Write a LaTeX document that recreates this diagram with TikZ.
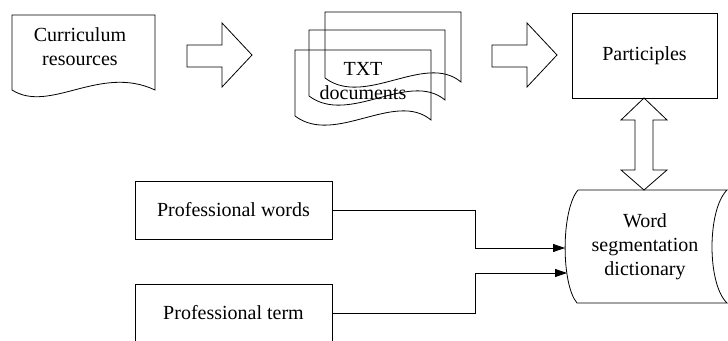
\documentclass[tikz,border=0pt]{standalone}
\usepackage{fontspec}
\setmainfont{Liberation Serif}
\usetikzlibrary{arrows.meta}

\begin{document}
\begin{tikzpicture}[x=1pt,y=-1pt,line width=0.8pt,
  txt/.style={font=\fontsize{20}{24}\selectfont,align=center},
  box/.style={draw,txt,minimum width=197pt,minimum height=58pt},
  link/.style={-{Triangle[length=12pt,width=8pt]}}]
\useasboundingbox (0,0) rectangle (728,340);
% source document
\draw (12,15)--(155,15)--(155,90) .. controls (100,64) and (50,114) .. (12,90)--cycle;
\node[txt] (res) at (80,47) {Curriculum\\resources};
% stacked txt documents
\foreach \dx/\dy in {30/12,14/30,0/50}
  \draw[shift={(295+\dx,\dy)}] (0,0)--(136,0)--(136,70) .. controls (100,40) and (40,96) .. (0,66)--cycle;
\node[txt] (txt) at (363,81) {TXT\\documents};
% block arrows
\foreach \sx in {0,305}
  \draw[shift={(\sx,0)}] (187,45)--(222,45)--(222,23)--(252,55)--(222,87)--(222,67)--(187,67)--cycle;
\node[draw,txt,minimum width=145pt,minimum height=85pt] (part) at (644.5,55.5) {Participles};
% double arrow
\draw (644,98)--(667,120)--(653,120)--(653,170)--(667,170)--(644,190)--(621,170)--(635,170)--(635,120)--(621,120)--cycle;
% dictionary
\draw (578,190)--(727,190) .. controls (707,210) and (707,284) .. (727,303)--(577,303) .. controls (561,284) and (561,210) .. (578,190);
\node[txt] (dict) at (645,247) {Word\\segmentation\\dictionary};
\coordinate (dictin1) at (565,248);
\coordinate (dictin2) at (567,273);
% sources
\node[box] (words) at (233.5,210) {Professional words};
\node[box] (term) at (233.5,313) {Professional term};
\draw[link] (words.east) -| ([xshift=-90pt]dictin1) -- (dictin1);
\draw[link] (term.east) -| ([xshift=-92pt]dictin2) -- (dictin2);
\end{tikzpicture}
\end{document}
